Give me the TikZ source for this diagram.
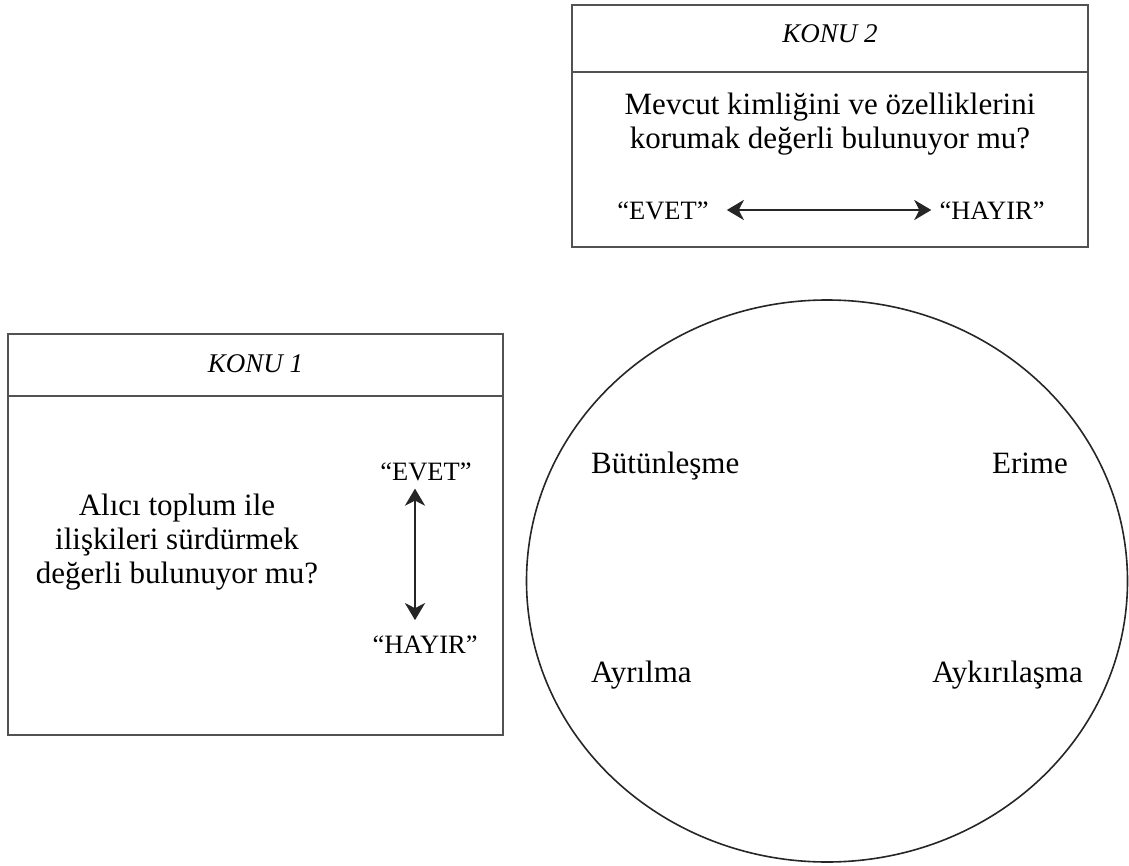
\documentclass[tikz,border=0pt]{standalone}
\usepackage{fontspec}
\setmainfont{Liberation Serif}
\usetikzlibrary{arrows.meta,shapes.geometric}
\tikzset{
  panel/.style={draw=black!68, line width=2.4pt, rectangle, inner sep=0pt},
  headrule/.style={draw=black!68, line width=2.4pt},
  titletext/.style={inner sep=0pt, anchor=base, font=\fontsize{27}{30}\selectfont\itshape},
  maintext/.style={inner sep=0pt, align=center, font=\fontsize{31}{34}\selectfont},
  answer/.style={inner sep=0pt, anchor=base, font=\fontsize{26.5}{30}\selectfont},
  strategy/.style={inner sep=0pt, font=\fontsize{31}{34}\selectfont},
  biarrow/.style={draw=black!85, line width=2.4pt, {Stealth[length=17pt,width=20pt,inset=5pt]}-{Stealth[length=17pt,width=20pt,inset=5pt]}},
  ring/.style={draw=black!85, line width=1.6pt, ellipse, inner sep=0pt}
}
\begin{document}
\begin{tikzpicture}[x=1pt,y=-1pt]
\useasboundingbox (0,0) rectangle (1129,866);
% KONU 2 panel
\node[panel, minimum width=516pt, minimum height=242pt] (b2) at (830,126) {};
\draw[headrule] (b2.west |- 0,72) -- (b2.east |- 0,72);
\node[titletext] (t2) at (830,43) {KONU 2};
\node[maintext] (q2) at (830,124.5) {Mevcut kimliğini ve özelliklerini\\korumak değerli bulunuyor mu?};
\node[answer] (e2) at (663,220) {“EVET”};
\node[answer] (h2) at (992,220) {“HAYIR”};
\draw[biarrow] ([xshift=18pt]e2.east |- 0,210) -- ([xshift=-8pt]h2.west |- 0,210);
% KONU 1 panel
\node[panel, minimum width=495pt, minimum height=401pt] (b1) at (255.5,534.5) {};
\draw[headrule] (b1.west |- 0,396) -- (b1.east |- 0,396);
\node[titletext] (t1) at (255.5,372) {KONU 1};
\node[maintext] (q1) at (177,542) {Alıcı toplum ile\\ilişkileri sürdürmek\\değerli bulunuyor mu?};
\node[answer] (e1) at (426,480) {“EVET”};
\node[answer] (h1) at (425,653) {“HAYIR”};
\draw[biarrow] ([xshift=-11pt,yshift=-8pt]e1.south) -- ([xshift=-10pt,yshift=15pt]h1.north);
% circle
\node[ring, minimum width=601pt, minimum height=562pt] (c) at (827,581) {};
\node[strategy, anchor=base west] (s1) at (591,473) {Bütünleşme};
\node[strategy, anchor=base east] (s2) at (1068,473) {Erime};
\node[strategy, anchor=base west] (s3) at (591,682) {Ayrılma};
\node[strategy, anchor=base east] (s4) at (1083,682) {Aykırılaşma};
\end{tikzpicture}
\end{document}
